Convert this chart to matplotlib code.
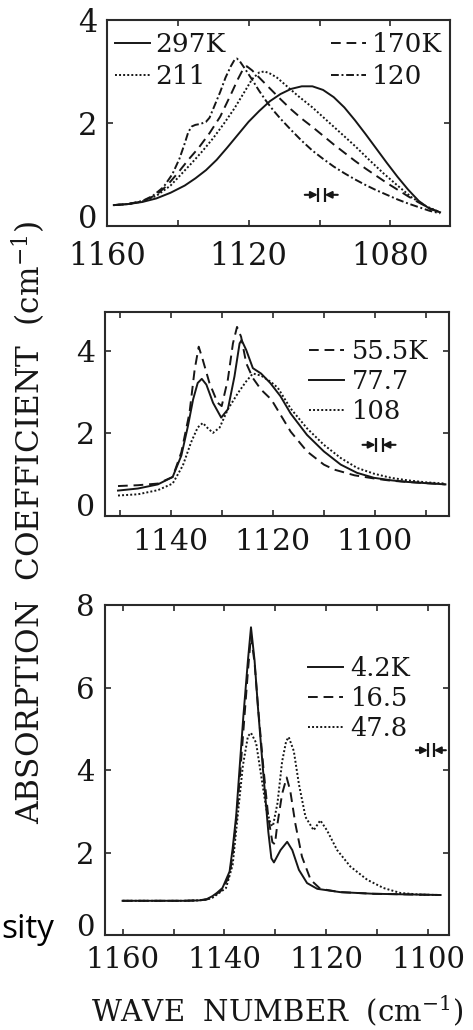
import matplotlib
matplotlib.use('Agg')
import matplotlib.pyplot as plt
from matplotlib.transforms import offset_copy, ScaledTranslation

plt.rcParams['font.family'] = ['DejaVu Serif']
plt.rcParams['mathtext.fontset'] = 'dejavuserif'
INK = '#161616'

# ---------------- Panel 1 data (high temperatures) ----------------
p1_x_297 = [1158, 1154, 1150, 1146, 1142, 1138, 1135, 1132, 1129, 1126, 1123, 1120, 1117, 1114,
            1111, 1108, 1105, 1102, 1099, 1096, 1093, 1090, 1087, 1084, 1081, 1078, 1075, 1072,
            1069, 1066]
p1_y_297 = [0.40, 0.42, 0.46, 0.53, 0.64, 0.78, 0.92, 1.08, 1.28, 1.52, 1.77, 2.02, 2.23, 2.42,
            2.56, 2.66, 2.71, 2.71, 2.64, 2.50, 2.30, 2.05, 1.78, 1.50, 1.22, 0.95, 0.70, 0.48,
            0.33, 0.26]
p1_x_211 = [1158, 1154, 1150, 1146, 1142, 1139, 1136, 1133, 1130, 1127, 1124, 1121, 1119, 1117,
            1115.5, 1114, 1112, 1109, 1106, 1102, 1098, 1094, 1090, 1086, 1082, 1078, 1074, 1070,
            1066]
p1_y_211 = [0.40, 0.42, 0.47, 0.58, 0.78, 1.00, 1.22, 1.45, 1.70, 1.98, 2.28, 2.62, 2.85, 2.98,
            3.00, 2.96, 2.88, 2.70, 2.52, 2.30, 2.05, 1.80, 1.55, 1.28, 1.02, 0.78, 0.55, 0.38,
            0.26]
p1_x_170 = [1158, 1154, 1150, 1146, 1143, 1140, 1137, 1134, 1131, 1128, 1125, 1123, 1121.5,
            1120.5, 1119, 1117, 1114, 1111, 1108, 1105, 1102, 1099, 1096, 1093, 1090, 1087, 1084,
            1081, 1078, 1075, 1072, 1069, 1066]
p1_y_170 = [0.40, 0.42, 0.47, 0.60, 0.78, 1.02, 1.28, 1.52, 1.80, 2.12, 2.55, 2.85, 3.05,
            3.10, 3.02, 2.88, 2.67, 2.46, 2.26, 2.08, 1.92, 1.75, 1.58, 1.42, 1.26, 1.11, 0.97,
            0.83, 0.70, 0.57, 0.45, 0.34, 0.26]
p1_x_120 = [1158, 1154, 1150, 1147, 1144, 1141.5, 1139.5, 1138, 1137, 1136, 1135, 1133.5, 1132,
            1131, 1129.5, 1128, 1126.5, 1125, 1124, 1123.3, 1122.5, 1121, 1119, 1117, 1115, 1113,
            1111, 1108, 1105, 1102, 1099, 1096, 1093, 1090, 1087, 1084, 1081, 1078, 1075, 1072,
            1069, 1066]
p1_y_120 = [0.40, 0.42, 0.48, 0.58, 0.75, 1.00, 1.30, 1.60, 1.82, 1.93, 1.96, 1.98, 2.02,
            2.10, 2.35, 2.60, 2.88, 3.10, 3.22, 3.25, 3.20, 3.05, 2.84, 2.62, 2.42, 2.24,
            2.08, 1.86, 1.65, 1.46, 1.30, 1.15, 1.02, 0.90, 0.79, 0.69, 0.60, 0.51, 0.43, 0.36,
            0.29, 0.24]

# ---------------- Panel 2 data ----------------
p2_x_555 = [1150.3, 1146.4, 1142.5, 1139.6, 1137.9, 1136.3, 1135.3, 1134.5, 1133.7, 1132.4,
            1130.8, 1130.0, 1128.8, 1127.8, 1127.0, 1126.2, 1125.2, 1123.9, 1122.3, 1120.3,
            1119.8, 1116.5, 1113.3, 1110.0, 1108.0, 1104.0, 1100.0, 1096.9, 1093.7, 1090.0,
            1086.2]
p2_y_555 = [0.72, 0.74, 0.78, 0.94, 1.54, 2.50, 3.54, 4.10, 3.78, 3.22, 2.74, 2.66, 3.30,
            4.18, 4.58, 4.34, 3.70, 3.34, 3.06, 2.82, 2.72, 2.04, 1.56, 1.24, 1.12, 0.98, 0.90,
            0.85, 0.82, 0.79, 0.76]
p2_x_777 = [1150.3, 1146.4, 1142.5, 1139.6, 1137.9, 1136.6, 1135.6, 1134.7, 1133.9, 1133.0,
            1131.7, 1130.1, 1128.8, 1127.5, 1126.5, 1126.1, 1125.2, 1123.9, 1122.3, 1120.5,
            1118.5, 1116.5, 1113.3, 1110.0, 1106.7, 1103.5, 1100.2, 1096.9, 1093.7, 1090.0,
            1086.2]
p2_y_777 = [0.61, 0.66, 0.76, 0.94, 1.46, 2.18, 2.82, 3.22, 3.32, 3.18, 2.74, 2.38, 2.58,
            3.38, 4.18, 4.26, 4.02, 3.58, 3.45, 3.22, 2.90, 2.48, 1.96, 1.56, 1.24, 1.04, 0.92,
            0.86, 0.82, 0.79, 0.76]
p2_x_108 = [1150.3, 1146.4, 1142.5, 1139.6, 1137.6, 1136.0, 1134.7, 1133.7, 1132.7, 1131.7,
            1130.4, 1128.8, 1126.8, 1125.2, 1123.9, 1122.3, 1120.3, 1119.0, 1116.5, 1113.3,
            1110.0, 1106.7, 1103.5, 1100.2, 1096.9, 1093.7, 1090.0, 1086.2]
p2_y_108 = [0.49, 0.52, 0.62, 0.78, 1.22, 1.78, 2.14, 2.25, 2.12, 2.01, 2.14, 2.58, 2.98,
            3.26, 3.45, 3.40, 3.24, 3.10, 2.60, 2.12, 1.72, 1.40, 1.16, 1.02, 0.92, 0.86, 0.81,
            0.78]

# ---------------- Panel 3 data ----------------
p3_x_42 = [1160, 1148, 1145, 1143.5, 1142.4, 1141.5, 1140.4, 1139.0, 1138.4, 1137.7, 1137.1,
           1136.3, 1135.4, 1134.8, 1134.1, 1133.4, 1132.4, 1131.4, 1130.8, 1130.3, 1129.0,
           1127.7, 1126.7, 1125.4, 1123.8, 1121.8, 1117.3, 1110.7, 1097.6]
p3_y_42 = [0.83, 0.83, 0.84, 0.87, 0.94, 1.02, 1.14, 1.54, 2.10, 2.90, 3.94, 5.30, 6.66,
           7.46, 6.66, 5.46, 3.94, 2.50, 1.86, 1.76, 2.06, 2.26, 2.06, 1.58, 1.26, 1.12,
           1.04, 1.00, 0.97]
p3_x_165 = [1160, 1148, 1145, 1143.5, 1142.4, 1141.5, 1140.4, 1139.0, 1138.4, 1137.7, 1137.0,
            1136.2, 1135.4, 1134.8, 1134.1, 1133.4, 1132.4, 1131.4, 1130.6, 1130.1, 1129.7,
            1128.7, 1127.8, 1127.1, 1126.1, 1124.8, 1123.1, 1121.2, 1117.3, 1110.7, 1097.6]
p3_y_165 = [0.83, 0.83, 0.84, 0.86, 0.92, 1.00, 1.10, 1.45, 1.95, 2.75, 3.80, 5.10, 6.40,
            7.25, 6.60, 5.50, 4.10, 2.85, 2.25, 2.20, 2.62, 3.42, 3.82, 3.50, 2.70, 1.90,
            1.34, 1.12, 1.04, 1.00, 0.97]
p3_x_478 = [1160, 1148, 1145, 1143.5, 1142.4, 1139.7, 1138.4, 1137.4, 1136.4, 1135.4, 1134.8,
            1133.8, 1132.8, 1131.8, 1130.9, 1130.5, 1129.6, 1128.7, 1127.9, 1127.4, 1126.4,
            1125.4, 1124.1, 1122.5, 1121.2, 1119.9, 1117.9, 1115.3, 1112.0, 1108.8, 1105.5,
            1101.6, 1097.6]
p3_y_478 = [0.83, 0.83, 0.84, 0.86, 0.90, 1.14, 1.70, 2.90, 4.10, 4.82, 4.90, 4.66, 3.86,
            3.06, 2.68, 2.64, 3.20, 4.20, 4.70, 4.80, 4.46, 3.66, 2.86, 2.54, 2.78, 2.54, 2.06,
            1.66, 1.34, 1.14, 1.02, 0.98, 0.97]

# legend labels
p1_labels = ['297K', '211', '170K', '120']
p2_labels = ['55.5K', '77.7', '108']
p3_labels = ['4.2K', '16.5', '47.8']

# tick values / labels
p1_xticks = [1160, 1140, 1120, 1100, 1080]
p1_xticklabels = ['1160', '', '1120', '', '1080']
p1_yticks = [0, 2, 4]
p2_xticks = [1150, 1140, 1130, 1120, 1110, 1100, 1090]
p2_xticklabels = ['', '1140', '', '1120', '', '1100', '']
p2_yticks = [0, 2, 4]
p3_xticks = [1160, 1150, 1140, 1130, 1120, 1110, 1100]
p3_xticklabels = ['1160', '', '1140', '', '1120', '', '1100']
p3_yticks = [0, 2, 4, 6, 8]

SOLID = '-'
DASH = (0, (5, 3))
DOT = (0, (1, 1.1))
DASHDOT = (0, (4, 1.4, 1, 1.4))
LW = 1.4

fig = plt.figure(figsize=(4.73, 10.30), dpi=100)
ax1 = fig.add_axes([0.2256, 0.7809, 0.7258, 0.1997])
ax2 = fig.add_axes([0.2214, 0.4993, 0.7279, 0.1981])
ax3 = fig.add_axes([0.2214, 0.0922, 0.7273, 0.3204])


def style_axes(ax, xticks, xticklabels, yticks, fs, xpad=10):
    ax.set_xticks(xticks)
    ax.set_xticklabels(xticklabels)
    ax.set_yticks(yticks)
    ax.set_yticklabels([str(v) for v in yticks])
    ax.tick_params(direction='in', length=4.5, width=1.1, top=True, right=True,
                   labelsize=fs, colors=INK)
    ax.tick_params(axis='x', pad=xpad)
    ax.tick_params(axis='y', pad=7)
    for s in ax.spines.values():
        s.set_linewidth(1.5)
        s.set_color('#2a2a2a')


def res_marker(ax, x, y, gap=7, arm=13, bar=14):
    for side in (-1, 1):
        bx = side * gap / 2.0
        tr_bar = offset_copy(ax.transData, fig=fig, x=bx, y=0, units='dots')
        ax.plot([x], [y], marker='|', ms=bar * 0.72, mew=1.6, color=INK, transform=tr_bar)
        tr_tail = offset_copy(ax.transData, fig=fig, x=bx + side * arm, y=0, units='dots')
        ax.annotate('', xy=(x, y), xycoords=tr_bar, xytext=(x, y), textcoords=tr_tail,
                    arrowprops=dict(arrowstyle='-|>', color=INK, lw=1.5, mutation_scale=10,
                                    shrinkA=0, shrinkB=0))


def raise_zero(ax, px=10):
    lab = ax.yaxis.get_major_ticks()[0].label1
    lab.set_transform(lab.get_transform() + ScaledTranslation(0, px / 100.0, fig.dpi_scale_trans))


# ---- Panel 1
l297, = ax1.plot(p1_x_297, p1_y_297, color=INK, lw=LW, ls=SOLID)
l211, = ax1.plot(p1_x_211, p1_y_211, color=INK, lw=LW, ls=DOT)
l170, = ax1.plot(p1_x_170, p1_y_170, color=INK, lw=LW, ls=DASH)
l120, = ax1.plot(p1_x_120, p1_y_120, color=INK, lw=LW, ls=DASHDOT)
style_axes(ax1, p1_xticks, p1_xticklabels, p1_yticks, 22, xpad=11)
ax1.legend([l297, l211, l170, l120], p1_labels, ncol=2, loc='upper left',
           bbox_to_anchor=(0.024, 0.942), frameon=False, fontsize=19, handlelength=1.33,
           handletextpad=0.2, columnspacing=4.0, labelspacing=0.27, borderaxespad=0,
           borderpad=0, labelcolor=INK)
res_marker(ax1, 1099.5, 0.60)
ax1.set_xlim(1160, 1063.2)
ax1.set_ylim(0, 4)
raise_zero(ax1)

# ---- Panel 2
l555, = ax2.plot(p2_x_555, p2_y_555, color=INK, lw=LW, ls=DASH)
l777, = ax2.plot(p2_x_777, p2_y_777, color=INK, lw=LW, ls=SOLID)
l108, = ax2.plot(p2_x_108, p2_y_108, color=INK, lw=LW, ls=DOT)
style_axes(ax2, p2_xticks, p2_xticklabels, p2_yticks, 21.5, xpad=9)
ax2.legend([l555, l777, l108], p2_labels, loc='upper left', bbox_to_anchor=(0.594, 0.866),
           frameon=False, fontsize=18.5, handlelength=1.35, handletextpad=0.3,
           labelspacing=0.2, borderaxespad=0, borderpad=0, labelcolor=INK)
res_marker(ax2, 1099.2, 1.72)
ax2.set_xlim(1152.9, 1085.5)
ax2.set_ylim(0, 4.95)
raise_zero(ax2, 11)

# ---- Panel 3
l42, = ax3.plot(p3_x_42, p3_y_42, color=INK, lw=LW, ls=SOLID)
l165, = ax3.plot(p3_x_165, p3_y_165, color=INK, lw=LW, ls=DASH)
l478, = ax3.plot(p3_x_478, p3_y_478, color=INK, lw=LW, ls=DOT)
style_axes(ax3, p3_xticks, p3_xticklabels, p3_yticks, 21, xpad=8)
ax3.legend([l42, l165, l478], p3_labels, loc='upper left', bbox_to_anchor=(0.591, 0.847),
           frameon=False, fontsize=18.5, handlelength=1.35, handletextpad=0.3,
           labelspacing=0.2, borderaxespad=0, borderpad=0, labelcolor=INK)
res_marker(ax3, 1099.5, 4.48, gap=6, arm=12)
ax3.set_xlim(1163.5, 1096)
ax3.set_ylim(0, 8.0)
raise_zero(ax3, 10)

# ---- axis titles
fig.text(0.062, 0.493, 'ABSORPTION  COEFFICIENT  (cm$^{-1}$)', rotation=90,
         ha='center', va='center', fontsize=22.5, color=INK)
fig.text(0.585, 0.0185, 'WAVE  NUMBER  (cm$^{-1}$)', ha='center', va='center',
         fontsize=21, color=INK)
fig.text(0.002, 1 - 938 / 1030, 'sity', family='Open Sans', fontsize=24, ha='left',
         va='baseline', color='black')

fig.savefig('out.png', dpi=100)
